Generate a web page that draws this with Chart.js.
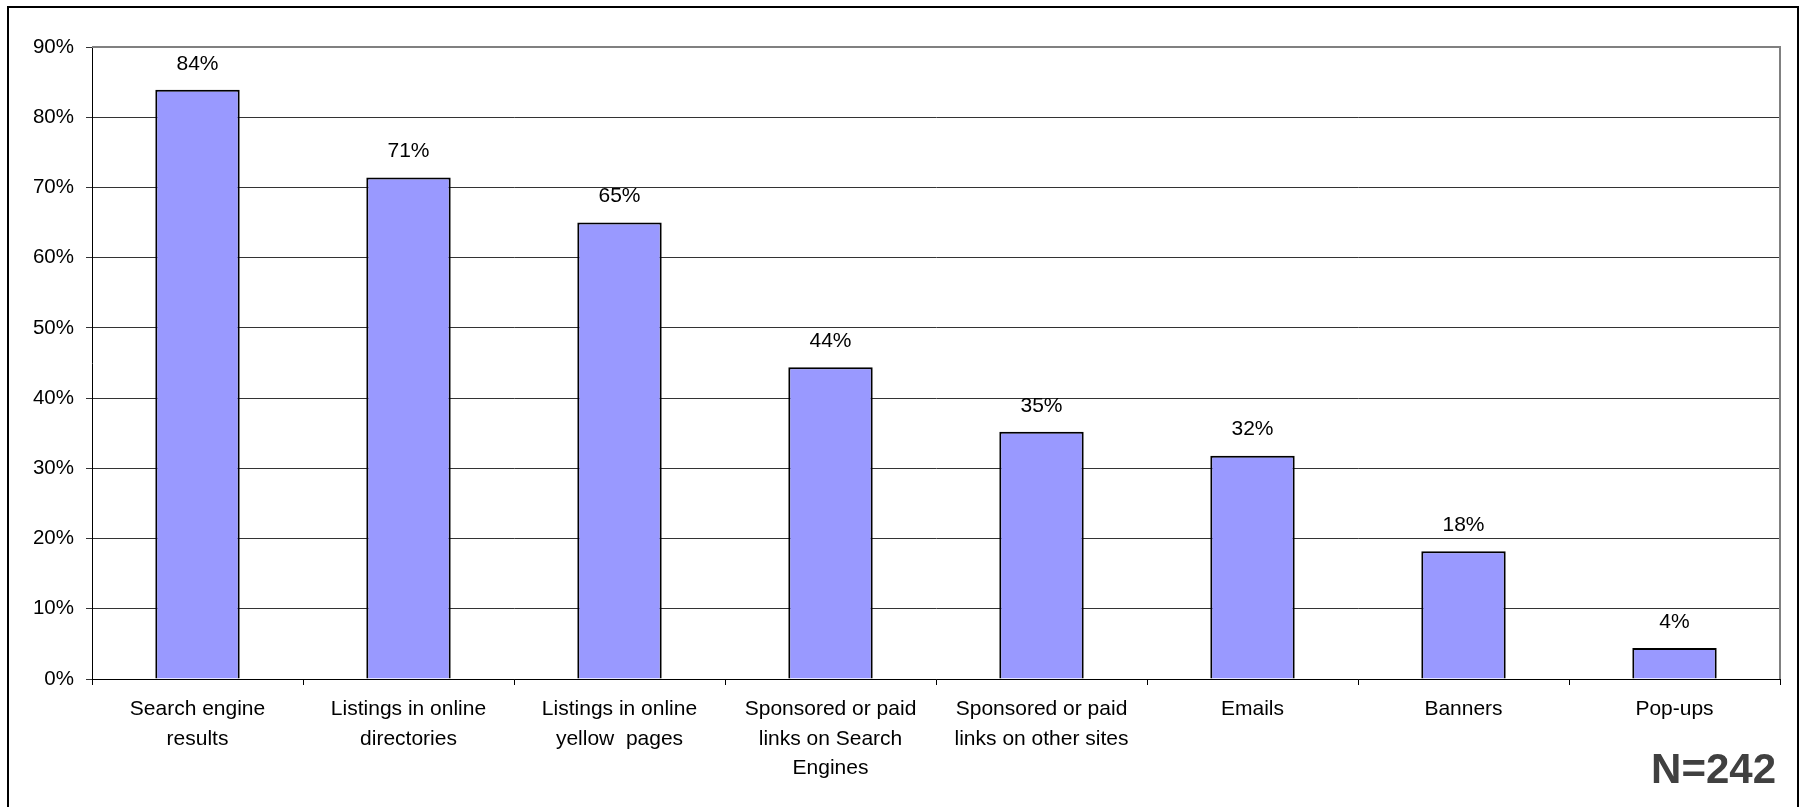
<!DOCTYPE html>
<html>
<head>
<meta charset="utf-8">
<script src="https://cdn.jsdelivr.net/npm/chart.js@4"></script>
<style>
  html, body { margin: 0; padding: 0; background: #fff; }
  #wrap { width: 1800px; height: 807px; position: relative; }
</style>
</head>
<body>
<div id="wrap"><canvas id="myChart" width="1800" height="807"></canvas></div>
<script>
const categories = [
  ["Search engine", "results"],
  ["Listings in online", "directories"],
  ["Listings in online", "yellow  pages"],
  ["Sponsored or paid", "links on Search", "Engines"],
  ["Sponsored or paid", "links on other sites"],
  "Emails",
  "Banners",
  "Pop-ups"
];
const shares = [83.9, 71.4, 65.0, 44.4, 35.2, 31.8, 18.2, 4.4];
const yTicks = [0, 10, 20, 30, 40, 50, 60, 70, 80, 90];
const sampleNote = "N=242";

const fontFamily = "'Liberation Sans', Arial, sans-serif";

// frame, plot border, value labels and the N note
const extras = {
  id: "extras",
  afterDraw(chart) {
    const ctx = chart.ctx;
    const area = chart.chartArea;
    ctx.save();
    ctx.strokeStyle = "#000";
    ctx.lineWidth = 2;
    ctx.strokeRect(8, 7, 1790, 900);

    ctx.strokeStyle = "#808080";
    ctx.lineWidth = 2;
    ctx.beginPath();
    ctx.moveTo(area.left, area.top);
    ctx.lineTo(area.right, area.top);
    ctx.lineTo(area.right, area.bottom);
    ctx.stroke();

    const meta = chart.getDatasetMeta(0);
    ctx.fillStyle = "#000";
    ctx.font = "21px " + fontFamily;
    ctx.textAlign = "center";
    ctx.textBaseline = "middle";
    meta.data.forEach((bar, i) => {
      ctx.fillText(Math.round(shares[i]) + "%", bar.x, bar.y - 26);
    });

    ctx.fillStyle = "#404040";
    ctx.font = "bold 42px " + fontFamily;
    ctx.textAlign = "right";
    ctx.fillText(sampleNote, 1776, 771);
    ctx.restore();
  }
};

const ctx = document.getElementById("myChart").getContext("2d");
const chart = new Chart(ctx, {
  type: "bar",
  data: {
    labels: categories,
    datasets: [
      {
        label: "Share",
        data: shares,
        backgroundColor: "#9999FF",
        borderColor: "#000",
        borderWidth: 2,
        barPercentage: 0.8,
        categoryPercentage: 0.5
      }
    ]
  },
  options: {
    responsive: false,
    animation: false,
    layout: { padding: { top: 47, right: 20, left: 0, bottom: 0 } },
    plugins: {
      legend: { display: false },
      tooltip: { enabled: false }
    },
    scales: {
      x: {
        grid: { drawOnChartArea: false, tickLength: 6, color: "#000", offset: true },
        border: { color: "#000", width: 1 },
        ticks: {
          color: "#000",
          font: { size: 21, family: fontFamily, lineHeight: 1.4 },
          padding: 10,
          maxRotation: 0,
          autoSkip: false
        },
        afterFit(scale) { scale.height = 128; }
      },
      y: {
        min: 0,
        max: 90,
        afterBuildTicks(scale) { scale.ticks = yTicks.map((v) => ({ value: v })); },
        grid: { color: "#333", tickLength: 6, lineWidth: 1 },
        border: { color: "#000", width: 1 },
        ticks: {
          color: "#000",
          font: { size: 20.5, family: fontFamily },
          padding: 12,
          callback: (v) => v + "%"
        },
        afterFit(scale) { scale.width = 92; }
      }
    }
  },
  plugins: [extras]
});
</script>
</body>
</html>
